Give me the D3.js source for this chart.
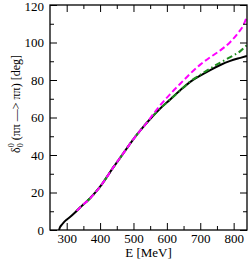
<!DOCTYPE html>
<html>
<head>
<meta charset="utf-8">
<script src="https://cdn.jsdelivr.net/npm/d3@7"></script>
<style>
  body { margin: 0; background: #fff; }
  svg text { font-family: "Liberation Serif", "DejaVu Serif", serif; fill: #000; }
</style>
</head>
<body>
<svg id="chart" width="249" height="260"></svg>
<script>
// tick values
const xMajor = [300, 400, 500, 600, 700, 800];
const xMinor = [350, 450, 550, 650, 750];
const yMajor = [0, 20, 40, 60, 80, 100, 120];
const yMinor = [10, 30, 50, 70, 90, 110];

// solid black curve
const blackE = [277, 280, 285, 290, 300, 310, 325, 340, 370, 400, 440, 470, 500, 520, 550, 580, 610, 640, 670, 700, 730, 760, 790, 820, 840];
const blackV = [0, 1.5, 2.7, 3.8, 5.5, 6.9, 9.3, 12.0, 16.9, 23.1, 33.5, 41, 48.5, 53, 59.2, 64.8, 69.6, 74.5, 79, 82.3, 85.3, 88, 90.2, 91.8, 92.8];

// green dash-dot curve
const greenE = [330, 340, 370, 400, 440, 470, 500, 520, 550, 580, 610, 640, 670, 700, 730, 760, 790, 820, 840];
const greenV = [10.2, 12.0, 16.9, 23.1, 33.5, 41, 48.5, 53, 59.2, 64.8, 69.6, 74.5, 79.2, 82.8, 86.2, 89.3, 92.2, 95.4, 98.7];

// magenta dashed curve
const magE = [330, 340, 370, 400, 440, 470, 500, 520, 540, 560, 580, 610, 640, 670, 700, 730, 760, 790, 815, 830, 840];
const magV = [10.2, 12.0, 16.9, 23.1, 33.5, 41, 48.5, 53, 57.2, 62, 66.5, 72.5, 78, 83.4, 88.2, 92.2, 95.8, 100.3, 105.5, 109.5, 114];

const margin = {left: 50, top: 5, right: 2, bottom: 30};
const W = 249, H = 260;

const x = d3.scaleLinear().domain([250, 840]).range([margin.left, W - margin.right]);
const y = d3.scaleLinear().domain([0, 120]).range([H - margin.bottom, margin.top]);

const svg = d3.select("#chart");

const line = d3.line()
  .x(d => x(d[0]))
  .y(d => y(d[1]))
  .curve(d3.curveMonotoneX);

svg.append("clipPath").attr("id", "plot")
  .append("rect")
  .attr("x", x.range()[0]).attr("y", y.range()[1])
  .attr("width", x.range()[1] - x.range()[0])
  .attr("height", y.range()[0] - y.range()[1]);

const curves = svg.append("g").attr("clip-path", "url(#plot)");

curves.append("path")
  .datum(d3.zip(blackE, blackV))
  .attr("d", line)
  .attr("fill", "none")
  .attr("stroke", "#000")
  .attr("stroke-width", 2);

curves.append("path")
  .datum(d3.zip(greenE, greenV))
  .attr("d", line)
  .attr("fill", "none")
  .attr("stroke", "#1e8c1e")
  .attr("stroke-width", 2)
  .attr("stroke-dasharray", "6,3,1.5,3");

curves.append("path")
  .datum(d3.zip(magE, magV))
  .attr("d", line)
  .attr("fill", "none")
  .attr("stroke", "#ff00ff")
  .attr("stroke-width", 2)
  .attr("stroke-dasharray", "6,3");

// axes: ticks point inward on all four sides
function drawAxis(axis, transform) {
  svg.append("g")
    .attr("transform", transform)
    .call(axis)
    .call(g => g.select(".domain").remove())
    .call(g => g.selectAll(".tick line").attr("stroke", "#000"));
}

const bottomY = y.range()[0], topY = y.range()[1];
const leftX = x.range()[0], rightX = x.range()[1];

// major ticks with labels
drawAxis(d3.axisBottom(x).tickValues(xMajor).tickSizeInner(-7).tickPadding(4), `translate(0,${bottomY})`);
drawAxis(d3.axisLeft(y).tickValues(yMajor).tickSizeInner(-7).tickPadding(6), `translate(${leftX},0)`);
drawAxis(d3.axisTop(x).tickValues(xMajor).tickSizeInner(-7).tickFormat(""), `translate(0,${topY})`);
drawAxis(d3.axisRight(y).tickValues(yMajor).tickSizeInner(-7).tickFormat(""), `translate(${rightX},0)`);
// minor ticks
drawAxis(d3.axisBottom(x).tickValues(xMinor).tickSizeInner(-4).tickFormat(""), `translate(0,${bottomY})`);
drawAxis(d3.axisLeft(y).tickValues(yMinor).tickSizeInner(-4).tickFormat(""), `translate(${leftX},0)`);
drawAxis(d3.axisTop(x).tickValues(xMinor).tickSizeInner(-4).tickFormat(""), `translate(0,${topY})`);
drawAxis(d3.axisRight(y).tickValues(yMinor).tickSizeInner(-4).tickFormat(""), `translate(${rightX},0)`);

svg.selectAll(".tick text").attr("font-size", 13).attr("font-family", "Liberation Serif");
// keep the top label inside the picture
svg.selectAll(".tick text").filter(d => d === 120).attr("dy", "0.42em");

// frame
svg.append("rect")
  .attr("x", leftX).attr("y", topY)
  .attr("width", rightX - leftX).attr("height", bottomY - topY)
  .attr("fill", "none")
  .attr("stroke", "#000")
  .attr("stroke-width", 1.3);

// axis titles
svg.append("text")
  .attr("x", (leftX + rightX) / 2)
  .attr("y", 257)
  .attr("text-anchor", "middle")
  .attr("font-size", 13)
  .text("E [MeV]");

const yt = svg.append("text")
  .attr("transform", `translate(20,104) rotate(-90)`)
  .attr("text-anchor", "middle")
  .attr("font-size", 12);
yt.append("tspan").text("δ");
yt.append("tspan").attr("font-size", 8).attr("dy", 3).text("0");
yt.append("tspan").attr("font-size", 8).attr("dx", -4).attr("dy", -9).text("0");
yt.append("tspan").attr("dy", 6).text(" (ππ —> ππ) [deg]");
</script>
</body>
</html>
